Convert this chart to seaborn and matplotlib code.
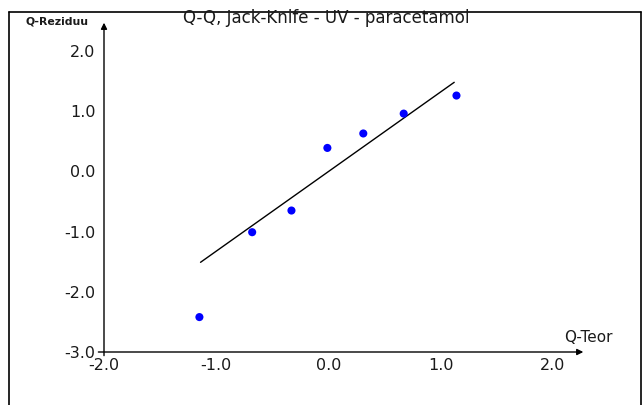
import matplotlib
matplotlib.use("Agg")
import matplotlib.pyplot as plt
from matplotlib.lines import Line2D
import seaborn as sns
import pandas as pd

# ---- data ----
q_teor = [-1.15, -0.68, -0.33, -0.01, 0.31, 0.67, 1.14]
q_reziduu = [-2.42, -1.01, -0.65, 0.39, 0.63, 0.96, 1.26]
line_x = [-1.14, 1.12]
line_y = [-1.51, 1.48]
x_ticks = [-2.0, -1.0, 0.0, 1.0, 2.0]
y_ticks = [-3.0, -2.0, -1.0, 0.0, 1.0, 2.0]
title = "Q-Q, Jack-Knife - UV - paracetamol"
xlabel = "Q-Teor"
ylabel = "Q-Reziduu"

sns.set_style("white")
plt.rcParams["font.family"] = ["DejaVu Sans"]
plt.rcParams["text.color"] = "black"

W, H = 642, 405
fig = plt.figure(figsize=(W / 100, H / 100), dpi=100)
fig.patch.set_facecolor("white")

# axes placed so that data range maps onto reference pixel positions
ax = fig.add_axes([104 / W, (H - 352) / H, 449 / W, 301 / H])
ax.set_facecolor("none")

pts = pd.DataFrame({"x": q_teor, "y": q_reziduu})
ln = pd.DataFrame({"x": line_x, "y": line_y})
sns.lineplot(data=ln, x="x", y="y", color="black", linewidth=1.0, ax=ax)
sns.scatterplot(data=pts, x="x", y="y", color="#0000ff", s=34,
                edgecolor="none", ax=ax, zorder=3)

ax.set_xlim(-2, 2)
ax.set_ylim(-3, 2)
for s in ax.spines.values():
    s.set_visible(False)
ax.set_xlabel("")
ax.set_ylabel("")
ax.set_xticks(x_ticks)
ax.set_xticklabels([f"{v:.1f}" for v in x_ticks])
ax.set_yticks(y_ticks)
ax.set_yticklabels([f"{v:.1f}" for v in y_ticks])
ax.tick_params(axis="x", direction="in", length=4, width=1, pad=4,
               labelsize=11.5, colors="black", labelcolor="#1a1a1a")
ax.tick_params(axis="y", direction="out", length=5, width=1, pad=1,
               labelsize=11.5, colors="black", labelcolor="#1a1a1a")
ax.grid(False)

# axis lines with arrows
arrow = dict(arrowstyle="-|>", color="black", lw=1.0, mutation_scale=9,
             shrinkA=0, shrinkB=0)
ax.annotate("", xy=(2.27, -3), xytext=(-2.05, -3), xycoords="data",
            arrowprops=arrow, annotation_clip=False)
ax.annotate("", xy=(-2, 2.47), xytext=(-2, -3.06), xycoords="data",
            arrowprops=arrow, annotation_clip=False)

# texts
fig.text(326 / W, 1 - 18 / H, title, ha="center", va="center", fontsize=12,
         color="#1a1a1a")
fig.text(564 / W, 1 - 337 / H, xlabel, ha="left", va="center", fontsize=11,
         color="#1a1a1a")
fig.text(25 / W, 1 - 22 / H, ylabel, ha="left", va="center", fontsize=7.8,
         fontweight="bold", color="#1a1a1a")

# outer frame
for (x0, y0, x1, y1) in [(8.5, 11.5, 8.5, H), (8.5, 11.5, W - 1.5, 11.5),
                         (W - 1.5, 11.5, W - 1.5, H)]:
    fig.add_artist(Line2D([x0 / W, x1 / W], [1 - y0 / H, 1 - y1 / H],
                          transform=fig.transFigure, color="black", lw=1.2))

fig.savefig("out.png", dpi=100)
